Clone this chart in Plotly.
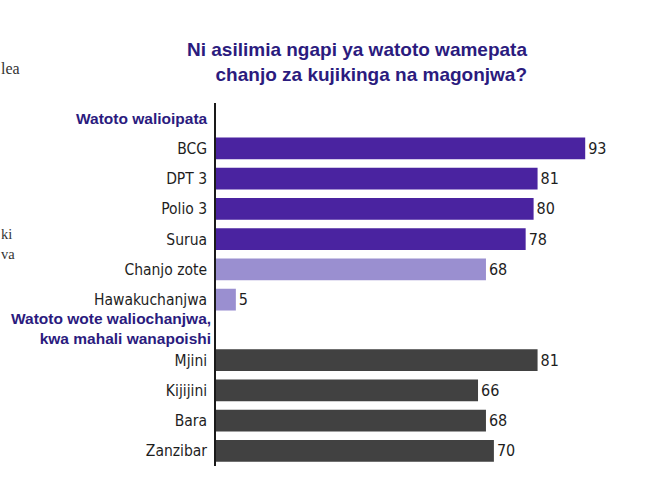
import plotly.graph_objects as go

# ---- data ----
title_lines = ["Ni asilimia ngapi ya watoto wamepata", "chanjo za kujikinga na magonjwa?"]
header_1 = "Watoto walioipata"
header_2 = ["Watoto wote waliochanjwa,", "kwa mahali wanapoishi"]

vaccine_labels = ["BCG", "DPT 3", "Polio 3", "Surua"]
vaccine_values = [93, 81, 80, 78]

summary_labels = ["Chanjo zote", "Hawakuchanjwa"]
summary_values = [68, 5]

place_labels = ["Mjini", "Kijijini", "Bara", "Zanzibar"]
place_values = [81, 66, 68, 70]

# slot order on the y axis (header slots hold no bar)
slots = ["__h1"] + vaccine_labels + summary_labels + ["__h2"] + place_labels
tick_text = ["" if s.startswith("__") else s for s in slots]

PURPLE = "#4a23a0"
LIGHT = "#9a8fd0"
GREY = "#414141"
HEAD = "#2b1b7e"
NARROW = "Liberation Sans Narrow, DejaVu Sans Condensed, Arial Narrow, sans-serif"
BOLD = "Liberation Sans, Arial, sans-serif"

fig = go.Figure()

def add(labels, values, color):
    fig.add_trace(go.Bar(
        y=labels, x=values, orientation="h",
        marker=dict(color=color, line=dict(width=0)),
        width=0.72,
        text=[str(v) for v in values], textposition="outside",
        textfont=dict(family=NARROW, size=16, color="#1e1e1e"),
        cliponaxis=False, showlegend=False, hoverinfo="skip",
    ))

add(vaccine_labels, vaccine_values, PURPLE)
add(summary_labels, summary_values, LIGHT)
add(place_labels, place_values, GREY)

W, H = 656, 495
L, R, T, B = 216, 43, 103, 29
pw = W - L - R

fig.update_layout(
    width=W, height=H,
    margin=dict(l=L, r=R, t=T, b=B, pad=0),
    paper_bgcolor="white", plot_bgcolor="white",
    title=dict(
        text="<br>".join(title_lines),
        x=527 / W, xanchor="right", xref="container",
        y=1 - 56 / H, yanchor="middle",
        font=dict(family=BOLD, size=19, color=HEAD, weight="bold"),
        pad=dict(t=0, b=0, l=0, r=0),
    ),
    xaxis=dict(range=[0, 100], visible=False, fixedrange=True),
    yaxis=dict(
        type="category", categoryorder="array", categoryarray=slots,
        range=[len(slots) - 0.5, -0.5],
        tickvals=slots, ticktext=tick_text,
        showline=True, linecolor="#1a1a1a", linewidth=1.6,
        showgrid=False, zeroline=False, ticks="",
        ticklabelstandoff=4,
        tickfont=dict(family=NARROW, size=15.5, color="#1e1e1e"),
    ),
)

# group headers (placed on their slots of the category axis)
fig.add_annotation(
    x=0, xref="paper", xanchor="right", xshift=-6,
    y="__h1", yref="y", yanchor="middle",
    text="<b>%s</b>" % header_1, showarrow=False, align="right",
    font=dict(family=BOLD, size=15.5, color=HEAD),
)
fig.add_annotation(
    x=0, xref="paper", xanchor="right", xshift=-3,
    y="__h2", yref="y", yanchor="middle", yshift=1,
    text="<br>".join("<b>%s</b>" % s for s in header_2), showarrow=False, align="right",
    font=dict(family=BOLD, size=15.5, color=HEAD),
)

# fragments of the neighbouring page text at the left edge
for txt, px, py, fs in [("lea", 0, 68, 16), ("ki", 0, 234, 14.5), ("va", 0, 254, 14.5)]:
    fig.add_annotation(
        x=(px - L) / pw, xref="paper", xanchor="left",
        y=1 - (py - T) / (H - T - B), yref="paper", yanchor="middle",
        text=txt, showarrow=False, borderpad=0,
        font=dict(family="Liberation Serif, DejaVu Serif, serif", size=fs, color="#333333"),
    )

fig.write_html("out.html")
